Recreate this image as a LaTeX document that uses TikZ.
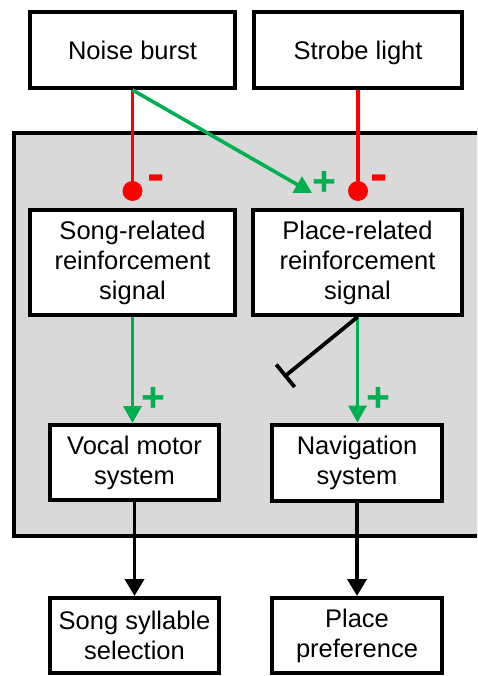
\documentclass[tikz,border=0pt]{standalone}
\usepackage{fontspec}
\setmainfont{Liberation Sans}
\usetikzlibrary{arrows.meta}
\definecolor{sigred}{RGB}{255,0,0}
\definecolor{siggreen}{RGB}{0,176,80}
\definecolor{panelgray}{RGB}{217,217,217}

\begin{document}
\begin{tikzpicture}[x=1pt,y=-1pt,
  box/.style={draw=black, line width=4pt, fill=white, align=center,
    font=\fontsize{25.5}{30}\selectfont, inner sep=0pt},
  excite/.style={draw=siggreen, line width=3.6pt,
    -{Triangle[length=17pt,width=18pt]}},
  suppress/.style={draw=sigred, line width=3.8pt},
  output/.style={draw=black, line width=3.8pt,
    -{Triangle[length=17pt,width=19pt]}},
  inhibit/.style={draw=black, line width=3.8pt, -{Bar[width=29pt,line width=3.8pt]}},
  plussign/.style={text=siggreen, font=\fontsize{41}{41}\selectfont\bfseries, inner sep=0pt},
  minussign/.style={text=sigred, font=\fontsize{52}{52}\selectfont\bfseries, inner sep=0pt}
]
\useasboundingbox (0,0) rectangle (477,676);
\clip (0,0) rectangle (477,676);

% shaded panel holding the internal signals
\path[fill=panelgray, draw=black, line width=4pt] (14,133) rectangle (500,536);

% stimuli (one line each, set on a common baseline)
\node[box, text depth=0pt, minimum width=205pt, minimum height=76pt] (noise) at (132.5,50) {Noise burst};
\node[box, text depth=0pt, minimum width=208pt, minimum height=76pt] (strobe) at (358,50) {Strobe light};

% reinforcement signals
\node[box, minimum width=205pt, minimum height=105pt] (song) at (132.5,262.5)
  {Song-related\\reinforcement\\signal};
\node[box, minimum width=209pt, minimum height=105pt] (place) at (357.5,262.5)
  {Place-related\\reinforcement\\signal};

% motor systems
\node[box, minimum width=169pt, minimum height=75pt] (vocal) at (134.5,462.5)
  {Vocal motor\\system};
\node[box, minimum width=170pt, minimum height=76pt] (nav) at (357,462.5)
  {Navigation\\system};

% behavioural outcomes
\node[box, minimum width=169pt, minimum height=75pt] (syll) at (134.5,635.5)
  {Song syllable\\selection};
\node[box, minimum width=170pt, minimum height=75pt] (pref) at (357,635.5)
  {Place\\preference};

% ends of the stimulus connectors
\coordinate (dotsong) at (noise.south |- 0,191);
\coordinate (dotplace) at (strobe.south |- 0,191);
\coordinate (tipplace) at (312,193);
\coordinate (barend) at (284,377);

% suppressive inputs
\draw[suppress] (noise.south) -- (dotsong);
\fill[sigred] (dotsong) circle (10pt);
\draw[suppress] (strobe.south) -- (dotplace);
\fill[sigred] (dotplace) circle (10pt);

% excitatory input from the noise burst
\draw[excite] (noise.south) -- (tipplace);

% signal to motor system
\draw[excite] (song.south) -- (song.south |- vocal.north);
\draw[excite] (place.south) -- (place.south |- nav.north);
\draw[inhibit] (place.south) -- (barend);

% motor system to behaviour
\draw[output] (vocal.south) -- (syll.north);
\draw[output] (nav.south) -- (pref.north);

% signs
\node[minussign] (m1) at (156,183) {-};
\node[plussign] (p1) at (324,183) {+};
\node[minussign] (m2) at (379,183) {-};
\node[plussign] (p2) at (153,399) {+};
\node[plussign] (p3) at (378,399) {+};
\end{tikzpicture}
\end{document}
